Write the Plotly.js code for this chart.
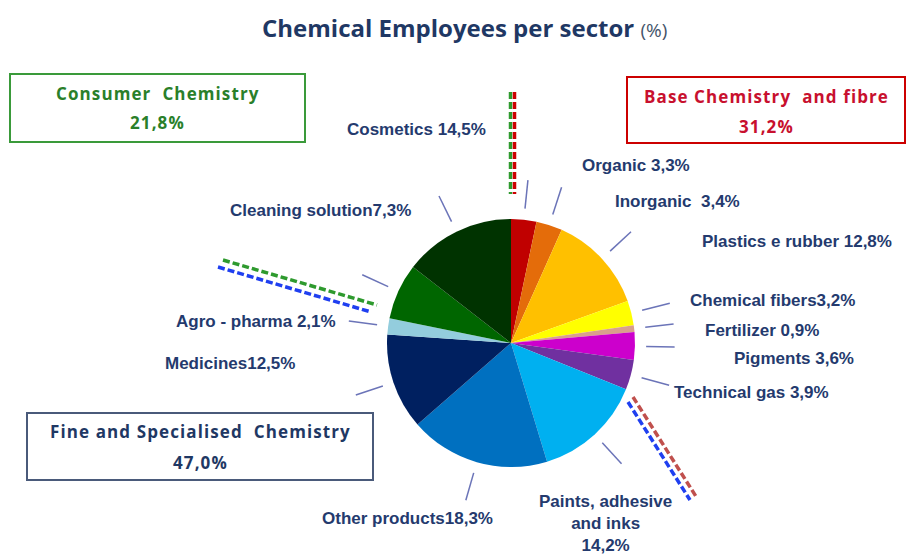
<!DOCTYPE html>
<html><head><meta charset="utf-8">
<script src="https://cdn.plot.ly/plotly-3.0.1.min.js"></script>
<style>html,body{margin:0;padding:0;background:#fff}#chart{width:906px;height:557px}</style>
</head><body><div id="chart"></div>
<script>
// ---- data ----
const sectors = ['Organic','Inorganic','Plastics e rubber','Chemical fibers','Fertilizer','Pigments','Technical gas','Paints, adhesive and inks','Other products','Medicines','Agro - pharma','Cleaning solution','Cosmetics'];
const shares = [3.3, 3.4, 12.8, 3.2, 0.9, 3.6, 3.9, 14.2, 18.3, 12.5, 2.1, 7.3, 14.5];
const sectorLabels = ['Organic 3,3%','Inorganic\u00a0 3,4%','Plastics e rubber 12,8%','Chemical fibers3,2%','Fertilizer 0,9%','Pigments 3,6%','Technical gas 3,9%','Paints, adhesive<br>and inks<br>14,2%','Other products18,3%','Medicines12,5%','Agro - pharma 2,1%','Cleaning solution7,3%','Cosmetics 14,5%'];
const sliceColors = ['#C00000','#E46C0A','#FFC000','#FFFF00','#D9A08C','#CC00CC','#7030A0','#00B0F0','#0070C0','#002060','#93CDDD','#006600','#003300'];
const groupNames = ['Consumer\u00a0 Chemistry','Base Chemistry\u00a0 and fibre','Fine and Specialised\u00a0 Chemistry'];
const groupShares = ['21,8%','31,2%','47,0%'];

// ---- layout helpers ----
const W = 906, H = 557;
const px = x => x / W, py = y => 1 - y / H;
const cx = 511, cy = 343, R = 124;

const labelPlace = [
  {x:580, y:166, a:'left'},
  {x:613, y:201, a:'left'},
  {x:700, y:241, a:'left'},
  {x:688, y:300, a:'left'},
  {x:703, y:330, a:'left'},
  {x:732, y:358, a:'left'},
  {x:672, y:392, a:'left'},
  {x:605, y:523, a:'center'},
  {x:407, y:518, a:'center'},
  {x:297, y:363, a:'right'},
  {x:338, y:321, a:'right'},
  {x:413, y:210, a:'right'},
  {x:345, y:129, a:'left'}
];

const labelFont = {family:'"Liberation Sans", Arial, sans-serif', size:17, color:'#243A6E'};
const annotations = [];
const shapes = [];

sectorLabels.forEach((t, i) => {
  const p = labelPlace[i];
  annotations.push({xref:'paper', yref:'paper', x:px(p.x), y:py(p.y), xanchor:p.a, yanchor:'middle',
    align:p.a, text:'<b>' + t + '</b>', showarrow:false, font:labelFont});
});

// leader lines from slice mid-angles
const total = shares.reduce((a, b) => a + b, 0);
let cum = 0;
shares.forEach(v => {
  const mid = (cum + v / 2) / total * 2 * Math.PI;
  cum += v;
  const s = Math.sin(mid), c = Math.cos(mid);
  shapes.push({type:'line', xref:'paper', yref:'paper',
    x0:px(cx + 1.09 * R * s), y0:py(cy - 1.09 * R * c),
    x1:px(cx + 1.32 * R * s), y1:py(cy - 1.32 * R * c),
    line:{color:'#6B74B8', width:1.5}});
});

// group boxes
const boxes = [
  {x0:10, y0:74, x1:305, y1:142, border:'#3A9A3A', text:'#2A7F2A'},
  {x0:627, y0:77, x1:905, y1:143, border:'#CC0000', text:'#C8102E'},
  {x0:27, y0:413, x1:373, y1:480, border:'#4A5A7A', text:'#1F3864'}
];
const boxFont = {family:'"Open Sans", sans-serif', size:17};
boxes.forEach((b, i) => {
  shapes.push({type:'rect', xref:'paper', yref:'paper', x0:px(b.x0), x1:px(b.x1), y0:py(b.y1), y1:py(b.y0),
    line:{color:b.border, width:2}, fillcolor:'rgba(0,0,0,0)'});
  const mx = (b.x0 + b.x1) / 2;
  annotations.push({xref:'paper', yref:'paper', x:px(mx), y:py(b.y0 + 19), xanchor:'center', yanchor:'middle',
    text:'<b><span style="letter-spacing:1.1px">' + groupNames[i] + '</span></b>', showarrow:false, font:Object.assign({color:b.text}, boxFont)});
  annotations.push({xref:'paper', yref:'paper', x:px(mx), y:py(b.y0 + 49), xanchor:'center', yanchor:'middle',
    text:'<b><span style="letter-spacing:1.1px">' + groupShares[i] + '</span></b>', showarrow:false, font:Object.assign({color:b.text}, boxFont)});
});

// dashed group separators
const seps = [
  {x0:510.5, y0:92, x1:510.5, y1:194, color:'#2E9A2E'},
  {x0:514.5, y0:92, x1:514.5, y1:194, color:'#CC0000'},
  {x0:223, y0:260, x1:377, y1:305, color:'#2E9A2E'},
  {x0:218, y0:267, x1:371, y1:312, color:'#1F3FF0'},
  {x0:633, y0:397, x1:697, y1:498, color:'#C0504D'},
  {x0:628, y0:402, x1:690, y1:500, color:'#1F3FF0'}
];
seps.forEach(s => shapes.push({type:'line', xref:'paper', yref:'paper', x0:px(s.x0), y0:py(s.y0), x1:px(s.x1), y1:py(s.y1),
  line:{color:s.color, width:3.5, dash:'7px,3px'}}));

const trace = {
  type:'pie', labels:sectors, values:shares, sort:false, direction:'clockwise', rotation:0,
  marker:{colors:sliceColors, line:{width:0}}, textinfo:'none', hoverinfo:'label+value',
  domain:{x:[px(cx - R), px(cx + R)], y:[py(cy + R), py(cy - R)]}
};

const layout = {
  width:W, height:H, margin:{l:0, r:0, t:0, b:0}, showlegend:false,
  paper_bgcolor:'#ffffff',
  title:{text:'<b>Chemical Employees per sector</b> <span style="font-size:19px;color:#44546A">(%)</span>',
    x:px(262), xanchor:'left', y:py(29), yanchor:'middle', xref:'paper', yref:'container',
    font:{family:'"Open Sans", Lato, sans-serif', size:24, color:'#1F3864'}},
  shapes:shapes, annotations:annotations
};

Plotly.newPlot('chart', [trace], layout, {displayModeBar:false, staticPlot:true});
</script>
</body></html>
